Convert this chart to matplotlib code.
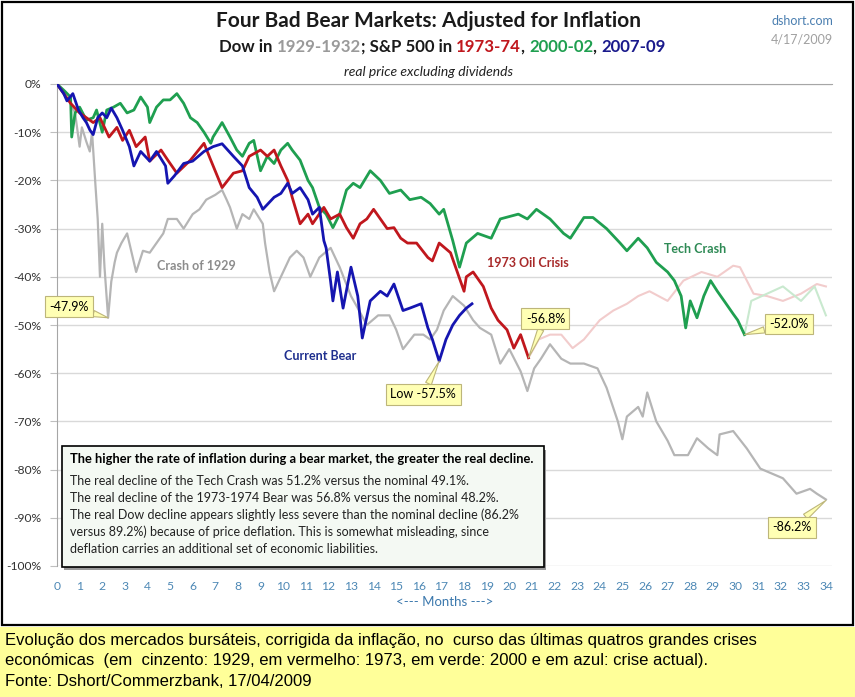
import matplotlib
matplotlib.use("Agg")
import matplotlib.pyplot as plt
from matplotlib.patches import Rectangle

plt.rcParams['font.family'] = ['Lato', 'DejaVu Sans']

# --- data (months from bear start, % real decline) ---
dow29_m = [0.0, 0.3, 0.6, 0.8, 1.0, 1.1, 1.3, 1.45, 1.55, 1.7, 1.8, 1.9, 2.0, 2.1, 2.26,
           2.4, 2.55, 2.65, 2.85, 3.1, 3.3, 3.5, 3.8, 4.1, 4.4, 4.7, 4.9, 5.3, 5.6, 6.0,
           6.3, 6.6, 7.0, 7.3, 7.5, 7.65, 7.95, 8.2, 8.5, 8.7, 9.1, 9.2, 9.4, 9.6, 10.0,
           10.3, 10.6, 10.9, 11.2, 11.6, 12.1, 12.5, 13.0, 13.3, 13.7, 14.2, 14.7, 15.0,
           15.3, 15.8, 16.2, 16.5, 16.8, 17.1, 17.5, 18.0, 18.4, 18.7, 19.2, 19.6, 20.0,
           20.5, 20.8, 21.1, 21.4, 21.8, 22.3, 22.7, 23.3, 23.9, 24.3, 24.8, 25.0, 25.2,
           25.7, 25.9, 26.1, 26.5, 27.0, 27.3, 27.9, 28.3, 28.8, 29.2, 29.3, 29.9, 30.5,
           31.1, 31.7, 32.1, 32.7, 33.3, 33.6, 34.0]
dow29_v = [0, -2, -4, -6, -13, -9, -12, -14, -10, -21, -28, -40, -29, -38, -48.5,
           -41, -37, -35, -33, -31, -35, -39, -34.6, -35, -33, -31, -28, -28, -30, -27,
           -26, -24, -23, -22, -24, -25.6, -30, -27, -28, -26, -29, -33, -39, -43, -39,
           -36, -34.6, -36, -40, -36, -34, -38, -44, -46.5, -50, -48, -48, -51,
           -55, -52, -52, -53, -51, -47, -44, -46, -49, -50.6, -52, -58, -55,
           -59.6, -63.7, -59, -57, -54, -57, -58, -58, -59, -63, -70, -73.7, -69,
           -67, -69, -64, -70, -74, -77, -77, -73.5, -75.6, -77, -72.7, -72, -75.6,
           -79.8, -81, -81.8, -85, -84, -85, -86.2]

oil73_m = [0.0, 0.3, 0.6, 1.0, 1.3, 1.6, 1.9, 2.3, 2.65, 2.9, 3.2, 3.5, 3.9, 4.1, 4.6,
           4.9, 5.3, 5.9, 6.5, 6.8, 7.3, 7.8, 8.2, 8.5, 9.0, 9.3, 9.6, 9.9, 10.2, 10.4,
           10.75, 11.1, 11.3, 11.8, 12.1, 12.5, 12.8, 13.1, 13.4, 13.7, 14.0, 14.3, 14.6,
           14.9, 15.2, 15.5, 15.9, 16.4, 16.6, 16.9, 17.4, 17.7, 18.0, 18.1, 18.4, 18.85,
           19.2, 19.5, 19.9, 20.2, 20.5, 20.85]
oil73_v = [0, -2, -4, -6, -7, -8, -7, -11, -9, -11.7, -9.6, -13, -11, -16, -13.7,
           -15.8, -18.5, -15.8, -12.3, -15.8, -21.5, -18.5, -18, -15, -13.7, -15, -13.7,
           -17, -20, -23.5, -29, -27, -29, -25.6, -28, -27, -29.8, -32, -29, -28, -26,
           -28, -30, -29.8, -32, -33, -33, -36, -36.7, -33, -35, -39, -43, -40, -39, -42,
           -46.5, -49, -51, -54.8, -52, -56.8]
oil73_late_m = [20.85, 21.3, 21.8, 22.3, 22.8, 23.3, 24.0, 24.6, 25.2, 25.7, 26.2, 27.0,
                27.7, 28.5, 29.2, 29.9, 30.2, 30.8, 31.4, 32.1, 32.9, 33.6, 34.0]
oil73_late_v = [-56.8, -53, -52, -52, -54.8, -53, -49, -47, -45.6, -44, -43, -45,
                -40.8, -39, -40, -37.7, -38, -43.5, -44, -45, -43.5, -41.5, -42]

tech_m = [0.0, 0.3, 0.6, 0.65, 0.8, 1.0, 1.3, 1.6, 1.75, 2.0, 2.2, 2.5, 2.8, 3.1, 3.4,
          3.7, 4.0, 4.1, 4.4, 4.7, 5.0, 5.3, 5.6, 5.9, 6.2, 6.5, 6.8, 6.9, 7.3, 7.65,
          7.95, 8.2, 8.5, 8.7, 9.0, 9.3, 9.6, 9.9, 10.2, 10.4, 10.75, 11.1, 11.3, 11.6,
          11.9, 12.2, 12.5, 12.8, 13.1, 13.4, 13.85, 14.3, 14.7, 15.2, 15.6, 16.1, 16.5,
          16.9, 17.1, 17.5, 17.8, 18.1, 18.6, 19.2, 19.6, 20.4, 20.8, 21.2, 21.8, 22.4,
          22.7, 23.3, 23.7, 24.3, 24.9, 25.2, 25.7, 26.1, 26.5, 27.0, 27.3, 27.6, 27.8,
          28.0, 28.3, 28.6, 28.9, 29.2, 29.5, 29.9, 30.1, 30.4]
tech_v = [0, -1.3, -2.7, -11, -6, -4.8, -7.5, -7, -5.4, -10, -5.4, -4.8, -4, -6, -5.4,
          -2.7, -4.8, -8, -4.8, -3.3, -3.3, -2, -4, -7, -8, -10, -12.3, -11, -8, -11,
          -13.7, -15, -12.3, -11.7, -18, -15, -16.5, -13.7, -12.3, -13.7, -15.8, -20,
          -21.5, -25.6, -27, -29.8, -27, -22, -20.6, -21.5, -18, -20, -22.7, -22, -24,
          -23.5, -24.8, -27, -26, -32.5, -38, -33, -31, -32, -28, -27, -28, -26, -28,
          -31, -32, -27.7, -27.7, -30, -33, -34.6, -32, -34, -37, -39, -40.8, -44,
          -50.6, -45, -48.5, -44, -40.8, -43, -45, -47.7, -49, -52]
tech_late_m = [30.4, 30.7, 31.4, 32.1, 32.9, 33.5, 34.0]
tech_late_v = [-52, -45, -43.5, -42, -45, -42, -48]

cur_m = [0.0, 0.3, 0.44, 0.7, 0.95, 1.15, 1.3, 1.46, 1.6, 1.8, 2.0, 2.2, 2.4, 2.65, 2.9,
         3.2, 3.4, 3.7, 4.1, 4.4, 4.8, 4.9, 5.2, 5.6, 6.0, 6.5, 6.9, 7.3, 7.8, 8.2, 8.5,
         8.85, 9.1, 9.6, 9.9, 10.2, 10.4, 10.75, 11.1, 11.3, 11.6, 11.8, 11.9, 12.1, 12.2,
         12.4, 12.65, 13.0, 13.3, 13.5, 13.85, 14.3, 14.6, 14.9, 15.3, 15.6, 16.1, 16.4,
         16.6, 16.9, 17.2, 17.5, 17.8, 18.1, 18.35]
cur_v = [0, -2, -3.5, -2, -5.4, -7, -8, -9.6, -10.5, -7, -6, -7, -5, -7, -9.6,
         -13, -17, -14, -16, -14, -17, -20.6, -19, -16.5, -16, -14, -13, -12.4, -15, -17,
         -21.5, -23.5, -26, -23.5, -22.7, -20.6, -22.7, -21.5, -24, -27, -25.6, -32.5,
         -34, -41, -45, -39, -46.5, -38, -44, -52.7, -45, -43, -44, -41.5, -47, -46.5,
         -45.6, -50.6, -53, -57.5, -53, -50, -48, -46.5, -45.6]

month_ticks = list(range(0, 35))
pct_ticks = list(range(0, -101, -10))
pct_labels = ['%d%%' % p for p in pct_ticks]

callouts = [('-47.9%', (2.26, -48.5), (0.53, -46.2)),
            ('-56.8%', (20.85, -56.8), (21.6, -48.7)),
            ('Low -57.5%', (16.9, -57.5), (16.2, -64.4)),
            ('-52.0%', (30.4, -52.0), (32.35, -49.8)),
            ('-86.2%', (34.0, -86.4), (32.5, -92.0))]

note_head = 'The higher the rate of inflation during a bear market, the greater the real decline.'
note_lines = ['The real decline of the Tech Crash was 51.2% versus the nominal 49.1%.',
              'The real decline of the 1973-1974 Bear was 56.8% versus the nominal 48.2%.',
              'The real Dow decline appears slightly less severe than the nominal decline (86.2%',
              'versus 89.2%) because of price deflation. This is somewhat misleading, since',
              'deflation carries an additional set of economic liabilities.']

caption = ['Evolução dos mercados bursáteis, corrigida da inflação, no  curso das últimas quatros grandes crises',
           'económicas  (em  cinzento: 1929, em vermelho: 1973, em verde: 2000 e em azul: crise actual).',
           'Fonte: Dshort/Commerzbank, 17/04/2009']

W, H = 855, 697


def fx(px):
    return px / W


def fy(py):
    return 1 - py / H


fig = plt.figure(figsize=(W / 100, H / 100), dpi=100)

# yellow caption band and chart frame
fig.add_artist(Rectangle((0, 0), 1, fy(627), transform=fig.transFigure,
                         fc='#ffff99', ec='none', zorder=0))
fig.add_artist(Rectangle((fx(2), fy(625)), fx(851), 1 - fy(623), transform=fig.transFigure,
                         fc='white', ec='black', lw=1.6, zorder=0))

ax = fig.add_axes([fx(57), fy(566), fx(832 - 57), (566 - 84) / H])
ax.set_xlim(0, 34.27)
ax.set_ylim(-100, 0)
ax.set_facecolor('none')

for s in ['right', 'bottom']:
    ax.spines[s].set_visible(False)
ax.spines['left'].set_color('#a6a6a6')
ax.spines['top'].set_color('#a6a6a6')
ax.set_yticks(pct_ticks)
ax.set_yticklabels(pct_labels, fontsize=8.7, color='#333333')
ax.tick_params(axis='y', length=5, color='#bfbfbf', pad=6)
ax.set_xticks(month_ticks)
ax.set_xticklabels([str(m) for m in month_ticks], fontsize=8.7, color='#4d88b5')
ax.tick_params(axis='x', length=0, pad=11)
ax.grid(axis='y', color='#d9d9d9', lw=1)
ax.set_axisbelow(True)
ax.set_xlabel('<--- Months --->', fontsize=9.5, color='#3b78ad', labelpad=3)

# faded continuations first, then main lines
ax.plot(oil73_late_m, oil73_late_v, color='#f2cccc', lw=1.5, zorder=2)
ax.plot(tech_late_m, tech_late_v, color='#c9e9cf', lw=1.5, zorder=2)
ax.plot(dow29_m, dow29_v, color='#b5b5b5', lw=1.6, zorder=3)
ax.plot(tech_m, tech_v, color='#1f9f50', lw=2.0, zorder=4)
ax.plot(oil73_m, oil73_v, color='#c0171d', lw=2.0, zorder=5)
ax.plot(cur_m, cur_v, color='#1515b0', lw=2.0, zorder=6)

ax.text(6.15, -37.7, 'Crash of 1929', color='#8c8c8c', fontsize=9, weight='bold',
        ha='center', va='center', zorder=7)
ax.text(11.64, -56.5, 'Current Bear', color='#1f2f8f', fontsize=9, weight='bold',
        ha='center', va='center', zorder=7)
ax.text(20.8, -37.1, '1973 Oil Crisis', color='#a82a2a', fontsize=9, weight='bold',
        ha='center', va='center', zorder=7)
ax.text(28.2, -34.2, 'Tech Crash', color='#2e8a55', fontsize=9, weight='bold',
        ha='center', va='center', zorder=7)

for label, pt, txt in callouts:
    ax.annotate(label, xy=pt, xytext=txt, fontsize=9, ha='center', va='center',
                annotation_clip=False, zorder=9,
                bbox=dict(boxstyle='square,pad=0.35', fc='#ffffb4', ec='#bdb67a', lw=0.8),
                arrowprops=dict(arrowstyle='wedge,tail_width=0.5', fc='#ffffb4',
                                ec='#bdb67a', lw=0.8, shrinkA=0, shrinkB=0))

# note box with shadow
ax.add_patch(Rectangle((0.32, -100.9), 21.3, 25.0, fc='#9a9a9a', ec='none', zorder=10,
                       clip_on=False))
ax.add_patch(Rectangle((0.22, -100.2), 21.3, 25.0, fc='#f4f9f3', ec='black', lw=1.2,
                       zorder=11, clip_on=False))
ax.text(0.58, -77.8, note_head, fontsize=9.3, weight='bold', ha='left', va='center',
        zorder=12)
for i, line in enumerate(note_lines):
    ax.text(0.58, -82.3 - 3.55 * i, line, fontsize=9.0, ha='left', va='center',
            color='#222222', zorder=12)

# titles
fig.text(fx(428), fy(21), 'Four Bad Bear Markets: Adjusted for Inflation', fontsize=15,
         weight='bold', ha='center', va='center', color='#1a1a1a')
pieces = [('Dow in ', '#1a1a1a'), ('1929-1932', '#9a9a9a'), ('; S&P 500 in ', '#1a1a1a'),
          ('1973-74', '#c0171d'), (', ', '#1a1a1a'), ('2000-02', '#1f9f50'),
          (', ', '#1a1a1a'), ('2007-09', '#1a1a8c')]
renderer = fig.canvas.get_renderer()
x0 = fx(219)
for s, c in pieces:
    t = fig.text(x0, fy(47), s, fontsize=12.1, weight='bold', color=c, ha='left', va='center')
    bb = t.get_window_extent(renderer=renderer)
    x0 += bb.width / W
fig.text(fx(428), fy(72), 'real price excluding dividends', fontsize=10, style='italic',
         ha='center', va='center', color='#222222')
fig.text(fx(833), fy(21), 'dshort.com', fontsize=9, ha='right', va='center', color='#4a7eb0')
fig.text(fx(833), fy(40), '4/17/2009', fontsize=9, ha='right', va='center', color='#a0a0a0')

for i, line in enumerate(caption):
    fig.text(fx(5), fy(640 + 21 * i), line, fontsize=12, ha='left', va='center',
             color='black', family=['Liberation Sans Narrow', 'Liberation Sans'])

fig.savefig('out.png', dpi=100)
